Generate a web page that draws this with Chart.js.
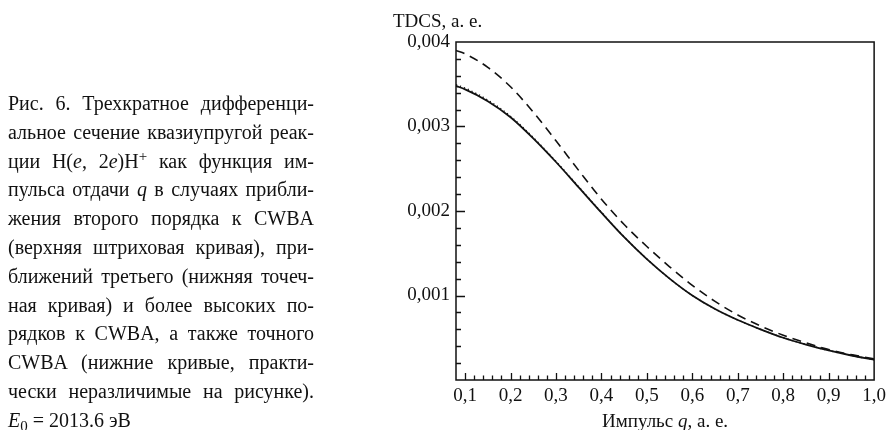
<!DOCTYPE html>
<html lang="ru">
<head>
<meta charset="utf-8">
<script src="https://cdn.jsdelivr.net/npm/chart.js@4.4.1/dist/chart.umd.min.js"></script>
<style>
  html, body { margin: 0; padding: 0; background: #fff; }
  body { width: 891px; height: 430px; position: relative; overflow: hidden; }
  #plot { position: absolute; left: 0; top: 0; }
  .caption {
    position: absolute; left: 8px; top: 89px; width: 306px;
    font-family: "Liberation Serif", "Times New Roman", serif;
    font-size: 20px; line-height: 28.8px; color: #111;
  }
  .caption div { text-align: justify; text-align-last: justify; white-space: nowrap; }
  .caption div.last { text-align-last: left; }
  .caption sup { font-size: 0.75em; line-height: 0; vertical-align: 0.5em; }
  .caption sub { font-size: 0.75em; line-height: 0; vertical-align: -0.25em; }
</style>
</head>
<body>
<canvas id="plot" width="891" height="430"></canvas>
<div class="caption">
  <div>Рис. 6. Трехкратное дифференци-</div>
  <div>альное сечение квазиупругой реак-</div>
  <div>ции H(<i>e</i>, 2<i>e</i>)H<sup>+</sup> как функция им-</div>
  <div>пульса отдачи <i>q</i> в случаях прибли-</div>
  <div>жения второго порядка к CWBA</div>
  <div>(верхняя штриховая кривая), при-</div>
  <div>ближений третьего (нижняя точеч-</div>
  <div>ная кривая) и более высоких по-</div>
  <div>рядков к CWBA, а также точного</div>
  <div>CWBA (нижние кривые, практи-</div>
  <div>чески неразличимые на рисунке).</div>
  <div class="last"><i>E</i><sub>0</sub> = 2013.6 эВ</div>
</div>
<script>
// Recoil momentum q, a. u.
const qValues = [0.08, 0.10, 0.15, 0.20, 0.25, 0.30, 0.35, 0.40, 0.45, 0.50,
                 0.55, 0.60, 0.65, 0.70, 0.75, 0.80, 0.85, 0.90, 0.95, 1.00];
// TDCS, a. u. — second-order CWBA approximation (upper dashed curve)
const tdcsSecondOrder = [0.00390, 0.00386, 0.00370, 0.00347, 0.00317, 0.00283, 0.00248, 0.00214, 0.00184, 0.00158,
                         0.00134, 0.00112, 0.00093, 0.00077, 0.00064, 0.00053, 0.00044, 0.00036, 0.00030, 0.00025];
// third-order approximation (lower dotted curve)
const tdcsThirdOrder = [0.003495, 0.003455, 0.003313, 0.003121, 0.002869, 0.002588, 0.002286, 0.001985, 0.001694, 0.001432,
                        0.00120, 0.00100, 0.00084, 0.00071, 0.00060, 0.00050, 0.00042, 0.00035, 0.00029, 0.00024];
// exact CWBA and higher orders (lower solid curve)
const tdcsExact = [0.00348, 0.00344, 0.00330, 0.00311, 0.00286, 0.00258, 0.00228, 0.00198, 0.00169, 0.00143,
                   0.00120, 0.00100, 0.00084, 0.00071, 0.00060, 0.00050, 0.00042, 0.00035, 0.00029, 0.00024];

const xTickValues = [0.1, 0.2, 0.3, 0.4, 0.5, 0.6, 0.7, 0.8, 0.9, 1.0];
const yTickValues = [0.001, 0.002, 0.003, 0.004];
const xMinorStep = 0.02;
const yMinorStep = 0.0002;

const FONT = '"Liberation Serif", "Times New Roman", serif';
const INK = '#111';

const toPoints = ys => qValues.map((q, i) => ({ x: q, y: ys[i] }));
const comma = (v, d) => v.toFixed(d).replace('.', ',');

// frame, inward ticks and axis titles
const framePlugin = {
  id: 'frame',
  afterDraw(chart) {
    const { ctx, chartArea: a, scales: { x, y } } = chart;
    ctx.save();
    ctx.strokeStyle = INK;
    ctx.lineWidth = 1.5;
    ctx.strokeRect(a.left, a.top, a.right - a.left, a.bottom - a.top);

    ctx.lineWidth = 1.3;
    ctx.beginPath();
    // x ticks (major every 0.1, minor every 0.02)
    for (let v = xTickValues[0]; v <= x.max + 1e-9; v += xMinorStep) {
      const major = xTickValues.some(t => Math.abs(t - v) < 1e-6);
      const px = Math.round(x.getPixelForValue(v)) + 0.5;
      if (px >= a.right - 1) continue;
      ctx.moveTo(px, a.bottom);
      ctx.lineTo(px, a.bottom - (major ? 7 : 4.5));
    }
    // y ticks (major every 0.001, minor every 0.0002)
    for (let v = yMinorStep; v <= y.max - 1e-9; v += yMinorStep) {
      const major = yTickValues.some(t => Math.abs(t - v) < 1e-9);
      const py = Math.round(y.getPixelForValue(v)) + 0.5;
      ctx.moveTo(a.left, py);
      ctx.lineTo(a.left + (major ? 9 : 5), py);
    }
    ctx.stroke();

    // axis titles
    ctx.fillStyle = INK;
    ctx.textBaseline = 'alphabetic';
    ctx.font = '19px ' + FONT;
    ctx.textAlign = 'left';
    ctx.fillText('TDCS, а. е.', 393, 27);

    const parts = [['Импульс ', false], ['q', true], [', а. е.', false]];
    let total = 0;
    parts.forEach(([t, it]) => { ctx.font = (it ? 'italic ' : '') + '19px ' + FONT; total += ctx.measureText(t).width; });
    let cx = (a.left + a.right) / 2 - total / 2;
    parts.forEach(([t, it]) => {
      ctx.font = (it ? 'italic ' : '') + '19px ' + FONT;
      ctx.fillText(t, cx, 427);
      cx += ctx.measureText(t).width;
    });
    ctx.restore();
  }
};

new Chart(document.getElementById('plot'), {
  type: 'line',
  data: {
    datasets: [
      { label: 'CWBA-2', data: toPoints(tdcsSecondOrder), borderColor: INK, borderWidth: 1.6, borderDash: [9, 6] },
      { label: 'CWBA-3', data: toPoints(tdcsThirdOrder), borderColor: INK, borderWidth: 1.4, borderDash: [1.2, 3] },
      { label: 'CWBA', data: toPoints(tdcsExact), borderColor: INK, borderWidth: 1.8 }
    ]
  },
  options: {
    responsive: false,
    animation: false,
    events: [],
    layout: { padding: { left: 0, top: 42, right: 15, bottom: 0 } },
    elements: { point: { radius: 0 }, line: { cubicInterpolationMode: 'monotone', fill: false } },
    plugins: { legend: { display: false }, tooltip: { enabled: false } },
    scales: {
      x: {
        type: 'linear', min: 0.08, max: 1.0,
        grid: { display: false, drawTicks: false },
        border: { display: false },
        afterBuildTicks: s => { s.ticks = xTickValues.map(value => ({ value })); },
        afterFit: s => { s.height = 50; },
        ticks: { color: INK, font: { family: FONT, size: 19 }, padding: 5, maxRotation: 0, autoSkip: false,
                 callback: v => comma(v, 1) }
      },
      y: {
        type: 'linear', min: 0, max: 0.004,
        grid: { display: false, drawTicks: false },
        border: { display: false },
        afterBuildTicks: s => { s.ticks = yTickValues.map(value => ({ value })); },
        afterFit: s => { s.width = 456; },
        ticks: { color: INK, font: { family: FONT, size: 19 }, padding: 6,
                 callback: v => comma(v, 3) }
      }
    }
  },
  plugins: [framePlugin]
});
</script>
</body>
</html>
